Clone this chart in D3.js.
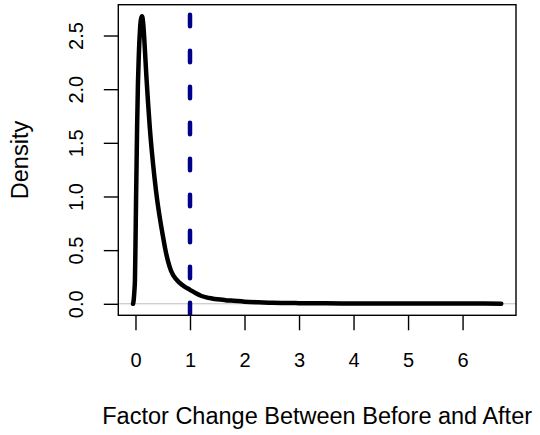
<!DOCTYPE html>
<html>
<head>
<meta charset="utf-8">
<script src="https://cdn.jsdelivr.net/npm/d3@7"></script>
<style>
  html, body { margin: 0; padding: 0; background: #ffffff; }
  svg text { font-family: "Liberation Sans", Arial, Helvetica, sans-serif; fill: #000; }
</style>
</head>
<body>
<svg id="chart" width="540" height="435"></svg>
<script>
// ---- data ----
const densityX = [-0.045, -0.04, -0.03, -0.02, -0.01, 0.0, 0.01, 0.02, 0.03, 0.045, 0.06, 0.08, 0.10, 0.12,
  0.14, 0.16, 0.18, 0.20, 0.23, 0.26, 0.30, 0.35, 0.40, 0.45, 0.50, 0.55, 0.60, 0.65, 0.70, 0.80, 0.90,
  1.00, 1.10, 1.20, 1.30, 1.40, 1.50, 1.65, 1.80, 2.00, 2.25, 2.50, 3.00, 3.50, 4.00, 4.50, 5.00, 5.50,
  6.00, 6.40, 6.71];
const densityY = [0.0, 0.01, 0.05, 0.12, 0.22, 0.55, 0.95, 1.30, 1.65, 2.05, 2.30, 2.53, 2.65, 2.68,
  2.62, 2.48, 2.30, 2.12, 1.88, 1.66, 1.42, 1.17, 0.96, 0.79, 0.64, 0.50, 0.39, 0.31, 0.26, 0.20, 0.16,
  0.13, 0.10, 0.075, 0.06, 0.05, 0.042, 0.034, 0.028, 0.020, 0.014, 0.010, 0.006, 0.004, 0.003, 0.003, 0.002, 0.002,
  0.002, 0.002, 0.001];
const xTicks = [0, 1, 2, 3, 4, 5, 6];
const yTicks = [0.0, 0.5, 1.0, 1.5, 2.0, 2.5];
const yTickLabels = ["0.0", "0.5", "1.0", "1.5", "2.0", "2.5"];
const refLineX = 1;
const xLabel = "Factor Change Between Before and After";
const yLabel = "Density";

// ---- layout ----
const svg = d3.select("#chart");
const plot = { left: 118.3, right: 516, top: 4.7, bottom: 315.3 };

function padded(ext) { const r = ext[1] - ext[0]; return [ext[0] - 0.04 * r, ext[1] + 0.04 * r]; }
const x = d3.scaleLinear().domain(padded(d3.extent(densityX))).range([plot.left, plot.right]);
const y = d3.scaleLinear().domain(padded([0, d3.max(densityY)])).range([plot.bottom, plot.top]);

const pts = densityX.map((d, i) => [d, densityY[i]]);

// clip
svg.append("defs").append("clipPath").attr("id", "clip")
  .append("rect").attr("x", plot.left).attr("y", plot.top)
  .attr("width", plot.right - plot.left).attr("height", plot.bottom - plot.top);

const g = svg.append("g").attr("clip-path", "url(#clip)");

// zero line
g.append("line")
  .attr("x1", plot.left).attr("x2", plot.right)
  .attr("y1", y(0)).attr("y2", y(0))
  .attr("stroke", "#bebebe").attr("stroke-width", 1);

// density curve
g.append("path")
  .datum(pts)
  .attr("d", d3.line().x(d => x(d[0])).y(d => y(d[1])).curve(d3.curveMonotoneX))
  .attr("fill", "none").attr("stroke", "#000").attr("stroke-width", 4.5)
  .attr("stroke-linecap", "round").attr("stroke-linejoin", "round");

// reference dashed line
g.append("line")
  .attr("x1", x(refLineX)).attr("x2", x(refLineX))
  .attr("y1", plot.top).attr("y2", plot.bottom)
  .attr("stroke", "#00008B").attr("stroke-width", 4.5)
  .attr("stroke-dasharray", "11.5 24.5").attr("stroke-dashoffset", 26)
  .attr("stroke-linecap", "round");

// box
svg.append("rect")
  .attr("x", plot.left).attr("y", plot.top)
  .attr("width", plot.right - plot.left).attr("height", plot.bottom - plot.top)
  .attr("fill", "none").attr("stroke", "#000").attr("stroke-width", 1.4);

// x axis
const xAxis = svg.append("g").attr("transform", `translate(0,${plot.bottom})`)
  .call(d3.axisBottom(x).tickValues(xTicks).tickSize(15).tickFormat(d3.format("d")));
xAxis.select(".domain").remove();
xAxis.selectAll(".tick line").attr("stroke", "#000").attr("stroke-width", 1.4);
xAxis.selectAll(".tick text").attr("y", 52).attr("dy", 0)
  .style("font-size", "20px").style("font-family", "'Liberation Sans', Arial, sans-serif").attr("fill", "#000");

// y axis
const yAxis = svg.append("g").attr("transform", `translate(${plot.left},0)`)
  .call(d3.axisLeft(y).tickValues(yTicks).tickSize(14.5).tickFormat((d, i) => yTickLabels[i]));
yAxis.select(".domain").remove();
yAxis.selectAll(".tick line").attr("stroke", "#000").attr("stroke-width", 1.4);
yAxis.selectAll(".tick text")
  .attr("x", 0).attr("y", 0).attr("dy", 0)
  .attr("transform", "translate(-35,0) rotate(-90)")
  .attr("text-anchor", "middle")
  .style("font-size", "20px").style("font-family", "'Liberation Sans', Arial, sans-serif").attr("fill", "#000");

// axis titles
svg.append("text")
  .attr("x", (plot.left + plot.right) / 2).attr("y", 424)
  .attr("text-anchor", "middle").style("font-size", "23.5px")
  .text(xLabel);
svg.append("text")
  .attr("transform", `translate(27.5,${(plot.top + plot.bottom) / 2}) rotate(-90)`)
  .attr("text-anchor", "middle").style("font-size", "23.5px")
  .text(yLabel);
</script>
</body>
</html>
